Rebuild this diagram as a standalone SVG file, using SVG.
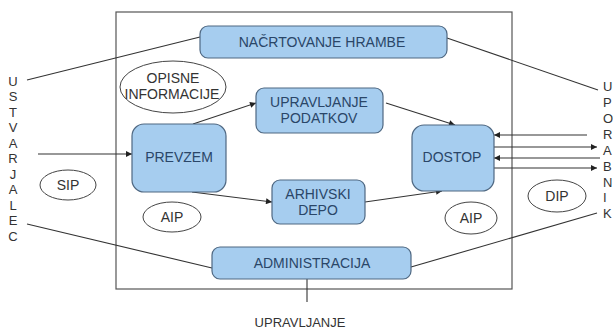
<svg xmlns="http://www.w3.org/2000/svg" width="613" height="328" viewBox="0 0 613 328">
<style>
.box{fill:#a6cdef;stroke:#4f6882;stroke-width:1.2}
.bt{font-family:"Liberation Sans",Arial,sans-serif;font-size:14px;fill:#2a4668;text-anchor:middle;dominant-baseline:central}
.ell{fill:#ffffff;stroke:#444;stroke-width:1}
.et{font-family:"Liberation Sans",Arial,sans-serif;font-size:14px;fill:#333;text-anchor:middle;dominant-baseline:central}
.lt{font-family:"Liberation Sans",Arial,sans-serif;font-size:13px;fill:#333;dominant-baseline:central}
.ln{fill:none;stroke:#333;stroke-width:1.1}
.ar{fill:none;stroke:#333;stroke-width:1.1;marker-end:url(#ah)}
</style>
<defs>
<marker id="ah" viewBox="0 0 10 10" refX="10" refY="5" markerWidth="8" markerHeight="6" markerUnits="userSpaceOnUse" orient="auto">
<path d="M0,0 L10,5 L0,10 z" fill="#222"/>
</marker>
</defs>
<rect width="613" height="328" fill="#ffffff"/>
<rect id="frame" x="116" y="12" width="396" height="277" fill="none" stroke="#555" stroke-width="1.2"/>

<g id="connectors">
<line class="ln" x1="27" y1="80" x2="200" y2="37"/>
<line class="ar" x1="38" y1="154" x2="132" y2="154"/>
<line class="ln" x1="27" y1="224" x2="212" y2="268"/>
<line class="ar" x1="193" y1="124" x2="256" y2="103"/>
<line class="ar" x1="192" y1="192" x2="272" y2="202"/>
<line class="ar" x1="386" y1="103" x2="455" y2="125"/>
<line class="ar" x1="365" y1="202" x2="442" y2="191"/>
<line class="ln" x1="447" y1="38" x2="598" y2="90"/>
<line class="ar" x1="587" y1="135" x2="494" y2="135"/>
<line class="ar" x1="494" y1="147" x2="597" y2="147"/>
<line class="ar" x1="600" y1="158" x2="494" y2="158"/>
<line class="ar" x1="494" y1="168" x2="597" y2="168"/>
<line class="ln" x1="597" y1="213" x2="411" y2="267"/>
<line class="ln" x1="307" y1="279" x2="307" y2="302"/>
</g>

<g id="nacrtovanje">
<rect class="box" x="200" y="26" width="247" height="32" rx="8"/>
<text class="bt" x="322" y="42">NAČRTOVANJE HRAMBE</text>
</g>
<g id="upravljanje-podatkov">
<rect class="box" x="256" y="88" width="127" height="45" rx="8"/>
<text class="bt" x="319" y="102">UPRAVLJANJE</text>
<text class="bt" x="319" y="118">PODATKOV</text>
</g>
<g id="prevzem">
<rect class="box" x="132" y="124" width="94" height="68" rx="12"/>
<text class="bt" x="179" y="157">PREVZEM</text>
</g>
<g id="dostop">
<rect class="box" x="412" y="125" width="82" height="66" rx="12"/>
<text class="bt" x="452" y="157">DOSTOP</text>
</g>
<g id="arhivski-depo">
<rect class="box" x="272" y="180" width="93" height="44" rx="8"/>
<text class="bt" x="318" y="194">ARHIVSKI</text>
<text class="bt" x="318" y="210">DEPO</text>
</g>
<g id="administracija">
<rect class="box" x="212" y="247" width="199" height="32" rx="8"/>
<text class="bt" x="312" y="263">ADMINISTRACIJA</text>
</g>

<g id="opisne">
<ellipse class="ell" cx="173" cy="87" rx="53" ry="26"/>
<text class="et" x="173" y="78">OPISNE</text>
<text class="et" x="172" y="94">INFORMACIJE</text>
</g>
<g id="sip">
<ellipse class="ell" cx="68" cy="185" rx="28" ry="15"/>
<text class="et" x="68" y="185">SIP</text>
</g>
<g id="aip1">
<ellipse class="ell" cx="172" cy="217" rx="29" ry="15"/>
<text class="et" x="172" y="217">AIP</text>
</g>
<g id="aip2">
<ellipse class="ell" cx="471" cy="218" rx="26" ry="16"/>
<text class="et" x="471" y="218">AIP</text>
</g>
<g id="dip">
<ellipse class="ell" cx="557" cy="196" rx="29" ry="16"/>
<text class="et" x="557" y="196">DIP</text>
</g>

<g id="ustvarjalec" text-anchor="middle">
<text class="lt" x="13" y="81">U</text>
<text class="lt" x="13" y="96.5">S</text>
<text class="lt" x="13" y="112">T</text>
<text class="lt" x="13" y="127.5">V</text>
<text class="lt" x="13" y="143">A</text>
<text class="lt" x="13" y="158.5">R</text>
<text class="lt" x="13" y="174">J</text>
<text class="lt" x="13" y="189.5">A</text>
<text class="lt" x="13" y="205">L</text>
<text class="lt" x="13" y="220.5">E</text>
<text class="lt" x="13" y="236">C</text>
</g>
<g id="uporabniki">
<text class="lt" x="603" y="86">U</text>
<text class="lt" x="603" y="102">P</text>
<text class="lt" x="603" y="118">O</text>
<text class="lt" x="603" y="134">R</text>
<text class="lt" x="603" y="150">A</text>
<text class="lt" x="603" y="166">B</text>
<text class="lt" x="603" y="182">N</text>
<text class="lt" x="603" y="197">I</text>
<text class="lt" x="603" y="213">K</text>
</g>
<g id="upravljanje">
<text class="lt" x="300" y="322" text-anchor="middle">UPRAVLJANJE</text>
</g>
</svg>
